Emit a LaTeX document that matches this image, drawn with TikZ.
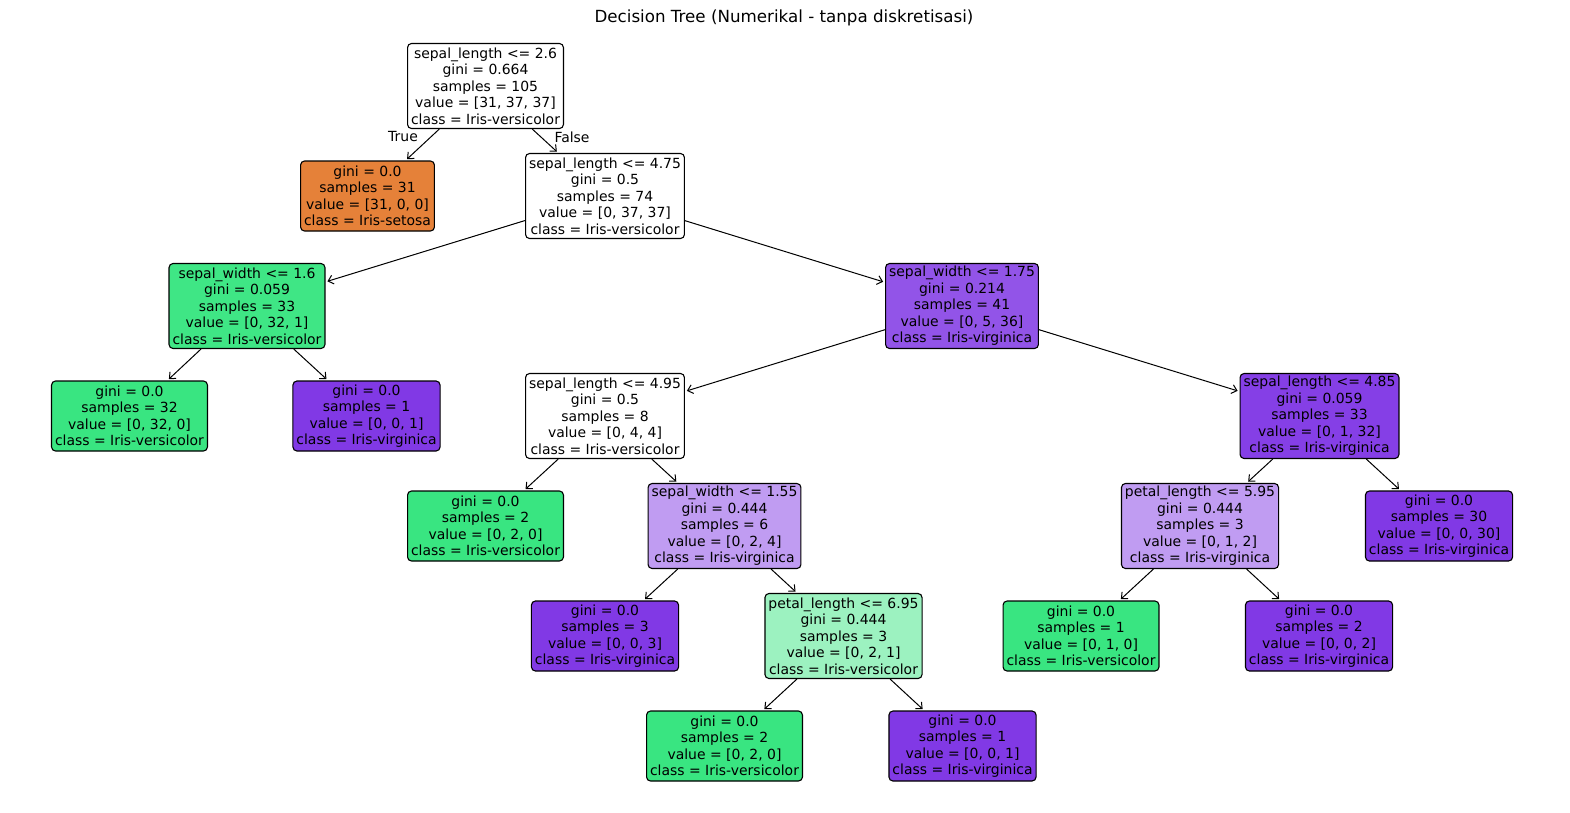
\documentclass[tikz,border=0pt]{standalone}
\usepackage{fontspec}
\setmainfont{DejaVu Sans}
\usetikzlibrary{arrows.meta}
\definecolor{cset}{HTML}{E58139}
\definecolor{cver}{HTML}{39E581}
\definecolor{cvir}{HTML}{8139E5}
\definecolor{cverA}{HTML}{3FE685}
\definecolor{cvirA}{HTML}{9254E8}
\definecolor{cvirB}{HTML}{853FE6}
\definecolor{cvirC}{HTML}{C09CF2}
\definecolor{cverC}{HTML}{9CF2C0}
\newcommand\tfs{\fontsize{13.95}{16.5}\selectfont}
\tikzset{
  tn/.style={draw=black, line width=1.1pt, rounded corners=4pt, align=center, font=\tfs, inner xsep=3.5pt, inner ysep=1pt},
  nfive/.style={tn, minimum height=85pt},
  nfour/.style={tn, minimum height=70pt},
  edge/.style={-{Straight Barb[length=5pt,width=9pt]}, line width=1pt, shorten >=2pt},
  lbl/.style={font=\tfs, inner sep=0pt}
}
\begin{document}
\begin{tikzpicture}[x=1pt,y=-1pt]
\useasboundingbox[fill=white] (0,0) rectangle (1570,812);
\node[font=\fontsize{16.7}{20}\selectfont] (title) at (784,18) {Decision Tree (Numerikal - tanpa diskretisasi)};

\node[nfive, fill=white] (n0) at (485.5,86) {sepal\_length <= 2.6\\gini = 0.664\\samples = 105\\value = [31, 37, 37]\\class = Iris-versicolor};
\node[nfour, fill=cset] (n1) at (367.5,196) {gini = 0.0\\samples = 31\\value = [31, 0, 0]\\class = Iris-setosa};
\node[nfive, fill=white] (n2) at (605,196) {sepal\_length <= 4.75\\gini = 0.5\\samples = 74\\value = [0, 37, 37]\\class = Iris-versicolor};
\node[nfive, fill=cverA] (n3) at (247,306) {sepal\_width <= 1.6\\gini = 0.059\\samples = 33\\value = [0, 32, 1]\\class = Iris-versicolor};
\node[nfive, fill=cvirA] (n4) at (962,306) {sepal\_width <= 1.75\\gini = 0.214\\samples = 41\\value = [0, 5, 36]\\class = Iris-virginica};
\node[nfour, fill=cver] (n5) at (129.5,416) {gini = 0.0\\samples = 32\\value = [0, 32, 0]\\class = Iris-versicolor};
\node[nfour, fill=cvir] (n6) at (366.5,416) {gini = 0.0\\samples = 1\\value = [0, 0, 1]\\class = Iris-virginica};
\node[nfive, fill=white] (n7) at (605,416) {sepal\_length <= 4.95\\gini = 0.5\\samples = 8\\value = [0, 4, 4]\\class = Iris-versicolor};
\node[nfive, fill=cvirB] (n8) at (1319.5,416) {sepal\_length <= 4.85\\gini = 0.059\\samples = 33\\value = [0, 1, 32]\\class = Iris-virginica};
\node[nfour, fill=cver] (n9) at (485.5,526) {gini = 0.0\\samples = 2\\value = [0, 2, 0]\\class = Iris-versicolor};
\node[nfive, fill=cvirC] (n10) at (724.5,526) {sepal\_width <= 1.55\\gini = 0.444\\samples = 6\\value = [0, 2, 4]\\class = Iris-virginica};
\node[nfive, fill=cvirC] (n11) at (1200,526) {petal\_length <= 5.95\\gini = 0.444\\samples = 3\\value = [0, 1, 2]\\class = Iris-virginica};
\node[nfour, fill=cvir] (n12) at (1439,526) {gini = 0.0\\samples = 30\\value = [0, 0, 30]\\class = Iris-virginica};
\node[nfour, fill=cvir] (n13) at (605,636) {gini = 0.0\\samples = 3\\value = [0, 0, 3]\\class = Iris-virginica};
\node[nfive, fill=cverC] (n14) at (843.5,636) {petal\_length <= 6.95\\gini = 0.444\\samples = 3\\value = [0, 2, 1]\\class = Iris-versicolor};
\node[nfour, fill=cver] (n15) at (1081,636) {gini = 0.0\\samples = 1\\value = [0, 1, 0]\\class = Iris-versicolor};
\node[nfour, fill=cvir] (n16) at (1319,636) {gini = 0.0\\samples = 2\\value = [0, 0, 2]\\class = Iris-virginica};
\node[nfour, fill=cver] (n17) at (724.5,746) {gini = 0.0\\samples = 2\\value = [0, 2, 0]\\class = Iris-versicolor};
\node[nfour, fill=cvir] (n18) at (962.5,746) {gini = 0.0\\samples = 1\\value = [0, 0, 1]\\class = Iris-virginica};

\draw[edge] (n0) -- (n1);
\draw[edge] (n0) -- (n2);
\draw[edge] (n2) -- (n3);
\draw[edge] (n2) -- (n4);
\draw[edge] (n3) -- (n5);
\draw[edge] (n3) -- (n6);
\draw[edge] (n4) -- (n7);
\draw[edge] (n4) -- (n8);
\draw[edge] (n7) -- (n9);
\draw[edge] (n7) -- (n10);
\draw[edge] (n8) -- (n11);
\draw[edge] (n8) -- (n12);
\draw[edge] (n10) -- (n13);
\draw[edge] (n10) -- (n14);
\draw[edge] (n11) -- (n15);
\draw[edge] (n11) -- (n16);
\draw[edge] (n14) -- (n17);
\draw[edge] (n14) -- (n18);

\node[lbl] (tru) at (403,137) {True};
\node[lbl] (fal) at (572,137) {False};
\end{tikzpicture}
\end{document}
